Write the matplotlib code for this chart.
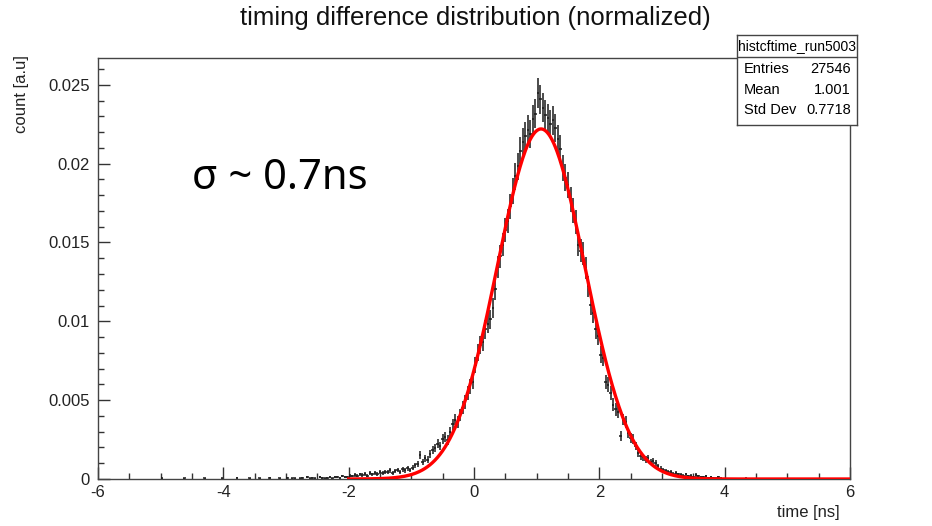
import numpy as np
import matplotlib
matplotlib.use("Agg")           # headless
import matplotlib.pyplot as plt
from matplotlib.ticker import MultipleLocator, FuncFormatter

# ── Data ──────────────────────────────────────────────────────────────────────

HIST_NAME = "histcftime_run5003"
ENTRIES   = 27546
MEAN      = 1.001
STD_DEV   = 0.7718

BIN_LO, BIN_HI, N_BINS = -6.0, 6.0, 300

# raw counts per bin, contiguous block starting at bin centre -2.98 ns
FIRST_CENTER = -2.98
counts = [
    2, 0, 1, 1, 0, 1, 2, 0, 3, 1,                          # -2.98 .. -2.62
    2, 1, 0, 3, 2, 1, 2, 4, 1, 3,                          # -2.58 .. -2.22
    3, 2, 5, 4, 3, 6, 5, 7, 6, 8,                          # -2.18 .. -1.82
    7, 9, 6, 10, 8, 11, 9, 12, 10, 13,                     # -1.78 .. -1.42
    12, 15, 11, 14, 16, 13, 17, 15, 19, 16,                # -1.38 .. -1.02
    20, 24, 27, 42, 30, 36, 34, 44, 50, 54,                # -0.98 .. -0.62
    62, 58, 70, 74, 68, 82, 96, 104, 100, 112,             # -0.58 .. -0.22
    125, 135, 150, 162, 170, 200, 222, 235, 240, 262,      # -0.18 ..  0.18
    272, 280, 300, 332, 372, 390, 410, 436, 452, 478,      #  0.22 ..  0.58
    505, 530, 548, 575, 590, 600, 612, 605, 630, 640,      #  0.62 ..  0.98
    676, 665, 650, 638, 632, 622, 628, 615, 596, 578,      #  1.02 ..  1.38
    545, 528, 515, 490, 470, 450, 410, 400, 395, 370,      #  1.42 ..  1.78
    338, 305, 290, 262, 250, 218, 212, 170, 165, 150,      #  1.82 ..  2.18
    130, 122, 118, 76, 104, 100, 80, 72, 70, 58,           #  2.22 ..  2.58
    45, 40, 38, 34, 36, 30, 32, 28, 22, 18,                #  2.62 ..  2.98
    16, 14, 12, 13, 9, 10, 8, 7, 6, 8,                     #  3.02 ..  3.38
    5, 6, 4, 7, 5, 3, 4, 5, 2, 3,                          #  3.42 ..  3.78
    2, 1, 3, 1, 0,                                         #  3.82 ..  3.98
]

# isolated entries far out in the tails
tail_centers = [-4.98, -4.62, -4.30, -4.02, -3.78, -3.58, -3.42, -3.26, -3.10, 4.34]
tail_counts  = [1, 1, 1, 1, 2, 1, 1, 2, 1, 1]

# gaussian fit drawn in red
FIT_CONST = 0.0222
FIT_MEAN  = 1.07
FIT_SIGMA = 0.70
FIT_RANGE = (-2.0, 6.0)

# ── Prepare ───────────────────────────────────────────────────────────────────

bin_w   = (BIN_HI - BIN_LO) / N_BINS
centers = FIRST_CENTER + bin_w * np.arange(len(counts))
x_all   = np.concatenate([centers, tail_centers])
n_all   = np.concatenate([counts, tail_counts]).astype(float)
keep    = n_all > 0
x_all, n_all = x_all[keep], n_all[keep]

norm = n_all.sum()
y    = n_all / norm
yerr = np.sqrt(n_all) / norm

xf = np.linspace(*FIT_RANGE, 600)
yf = FIT_CONST * np.exp(-0.5 * ((xf - FIT_MEAN) / FIT_SIGMA) ** 2)

# ── Plot ──────────────────────────────────────────────────────────────────────

plt.rcParams["font.family"] = ["Liberation Sans", "DejaVu Sans"]
plt.rcParams["axes.unicode_minus"] = False

W, H = 932, 526
fig = plt.figure(figsize=(W / 100, H / 100), dpi=100)
fig.patch.set_facecolor("white")

ax = fig.add_axes([98 / W, 1 - 479 / H, 752 / W, 421 / H])

ax.errorbar(x_all, y, yerr=yerr, xerr=bin_w / 2, fmt="none",
            ecolor="#1a1a1a", elinewidth=1.1, capsize=0, zorder=2)
ax.plot(xf, yf, color="red", linewidth=2.4, zorder=3)

ax.set_xlim(BIN_LO, BIN_HI)
ax.set_ylim(0, 0.0267)

ax.xaxis.set_major_locator(MultipleLocator(2))
ax.xaxis.set_minor_locator(MultipleLocator(0.5))
ax.yaxis.set_major_locator(MultipleLocator(0.005))
ax.yaxis.set_minor_locator(MultipleLocator(0.001))
ax.yaxis.set_major_formatter(FuncFormatter(lambda v, _: f"{v:g}"))
ax.xaxis.set_major_formatter(FuncFormatter(lambda v, _: f"{v:g}"))

ax.tick_params(which="both", direction="in", top=False, right=False,
               colors="#333333", labelcolor="#222222", labelsize=12)
ax.tick_params(which="major", length=8.5, width=1.0)
ax.tick_params(which="minor", length=4.3, width=1.0)
ax.tick_params(axis="x", pad=4)
ax.tick_params(axis="y", pad=6)
for sp in ax.spines.values():
    sp.set_color("#444444")
    sp.set_linewidth(1.0)

# titles / axis labels (ROOT style: labels at the axis ends)
fig.text(475 / W, 1 - 18 / H, "timing difference distribution (normalized)",
         ha="center", va="center", fontsize=18.5, color="#111111")
fig.text(22 / W, 1 - 55 / H, "count [a.u]", rotation=90,
         ha="center", va="top", fontsize=12, color="#222222")
fig.text(840 / W, 1 - 512 / H, "time [ns]",
         ha="right", va="center", fontsize=12, color="#222222")

# annotation pasted on the slide
fig.text(192 / W, 1 - 178 / H, "σ ~ 0.7ns",
         ha="left", va="center", fontsize=30, color="black",
         family=["Noto Sans", "DejaVu Sans"])

# ── Stats box ─────────────────────────────────────────────────────────────────

sb = fig.add_axes([737 / W, 1 - 125 / H, 120 / W, 90 / H])
sb.set_xlim(0, 1)
sb.set_ylim(0, 1)
sb.set_xticks([])
sb.set_yticks([])
for sp in sb.spines.values():
    sp.set_color("#444444")
    sp.set_linewidth(1.0)
sb.axhline(0.755, color="#444444", linewidth=1.0)
sb.text(0.5, 0.878, HIST_NAME, ha="center", va="center", fontsize=10)
rows = [("Entries", f"{ENTRIES}"), ("Mean", f"{MEAN:.4g}"), ("Std Dev", f"{STD_DEV:.4g}")]
for (name, val), yy in zip(rows, [0.622, 0.389, 0.167]):
    sb.text(0.06, yy, name, ha="left", va="center", fontsize=10.5)
    sb.text(0.95, yy, val, ha="right", va="center", fontsize=10.5)

fig.savefig("out.png", dpi=100, facecolor=fig.get_facecolor())
plt.close(fig)
